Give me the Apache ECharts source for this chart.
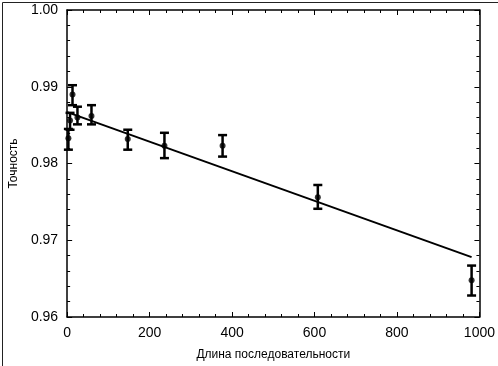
<!DOCTYPE html>
<html><head><meta charset="utf-8">
<script src="https://cdn.jsdelivr.net/npm/echarts@6/dist/echarts.min.js"></script>
<style>html,body{margin:0;padding:0;background:#fff}#c{width:498px;height:366px}</style>
</head><body><div id="c"></div>
<script>
var xs    = [3, 7, 13, 25, 59, 147, 236, 377, 608, 981];
var ys    = [0.9833, 0.9856, 0.9890, 0.9860, 0.9862, 0.9832, 0.9823, 0.9823, 0.9756, 0.9648];
var lows  = [0.9818, 0.9844, 0.9876, 0.9851, 0.9851, 0.9818, 0.9807, 0.9809, 0.9741, 0.9628];
var highs = [0.9845, 0.9866, 0.9902, 0.9874, 0.9876, 0.9844, 0.9840, 0.9837, 0.9772, 0.9667];
var fitX  = [0, 981];
var fitY  = [0.9867, 0.9678];
var xTitle = 'Длина последовательности';
var yTitle = 'Точность';

var pts = xs.map(function(x,i){return [x, ys[i]];});
var bars = xs.map(function(x,i){return [x, lows[i], highs[i]];});
var fit = fitX.map(function(x,i){return [x, fitY[i]];});

var font = 'Liberation Sans, Arial, sans-serif';
function axisBase(extra){
  var a = {
    type:'value',
    axisLine:{show:true,onZero:false,lineStyle:{color:'#000',width:1.5}},
    axisTick:{show:true,inside:true,length:5,lineStyle:{color:'#000',width:1}},
    minorTick:{show:true,splitNumber:5,length:3,lineStyle:{color:'#000',width:1}},
    splitLine:{show:false},
    minorSplitLine:{show:false}
  };
  for (var k in extra) a[k]=extra[k];
  return a;
}
var chart = echarts.init(document.getElementById('c'));
chart.setOption({
  animation:false,
  backgroundColor:'#fff',
  grid:{left:63,right:18,top:10,bottom:42,containLabel:false},
  xAxis:[
    axisBase({min:0,max:1000,interval:200,position:'bottom',
      name:xTitle,nameLocation:'middle',nameGap:32,
      nameTextStyle:{color:'#000',fontSize:12,fontFamily:font},
      axisLabel:{color:'#000',fontSize:14,fontFamily:font,margin:9,
        formatter:function(v){return String(v);}}}),
    axisBase({min:0,max:1000,interval:200,position:'top',axisLabel:{show:false}})
  ],
  yAxis:[
    axisBase({min:0.96,max:1.00,interval:0.01,position:'left',
      name:yTitle,nameLocation:'middle',nameGap:47,nameRotate:90,
      nameTextStyle:{color:'#000',fontSize:12,fontFamily:font},
      axisLabel:{color:'#000',fontSize:14,fontFamily:font,margin:9,
        formatter:function(v){return v.toFixed(2);}}}),
    axisBase({min:0.96,max:1.00,interval:0.01,position:'right',axisLabel:{show:false}})
  ],
  series:[
    {type:'line',data:fit,symbol:'none',lineStyle:{color:'#000',width:2},z:2},
    {type:'custom',data:bars,z:3,
      renderItem:function(params,api){
        var x=api.value(0);
        var lo=api.coord([x,api.value(1)]);
        var hi=api.coord([x,api.value(2)]);
        var w=4.5;
        var st={stroke:'#000',lineWidth:2.5};
        return {type:'group',children:[
          {type:'line',shape:{x1:hi[0],y1:hi[1],x2:lo[0],y2:lo[1]},style:st},
          {type:'line',shape:{x1:hi[0]-w,y1:hi[1],x2:hi[0]+w,y2:hi[1]},style:st},
          {type:'line',shape:{x1:lo[0]-w,y1:lo[1],x2:lo[0]+w,y2:lo[1]},style:st}
        ]};
      }},
    {type:'scatter',data:pts,symbol:'circle',symbolSize:6,itemStyle:{color:'#000'},z:4}
  ],
  graphic:[{type:'rect',left:0,top:0,shape:{x:0.5,y:0.5,width:497,height:365},
    style:{fill:'none',stroke:'#222',lineWidth:1},silent:true}]
});
</script></body></html>
